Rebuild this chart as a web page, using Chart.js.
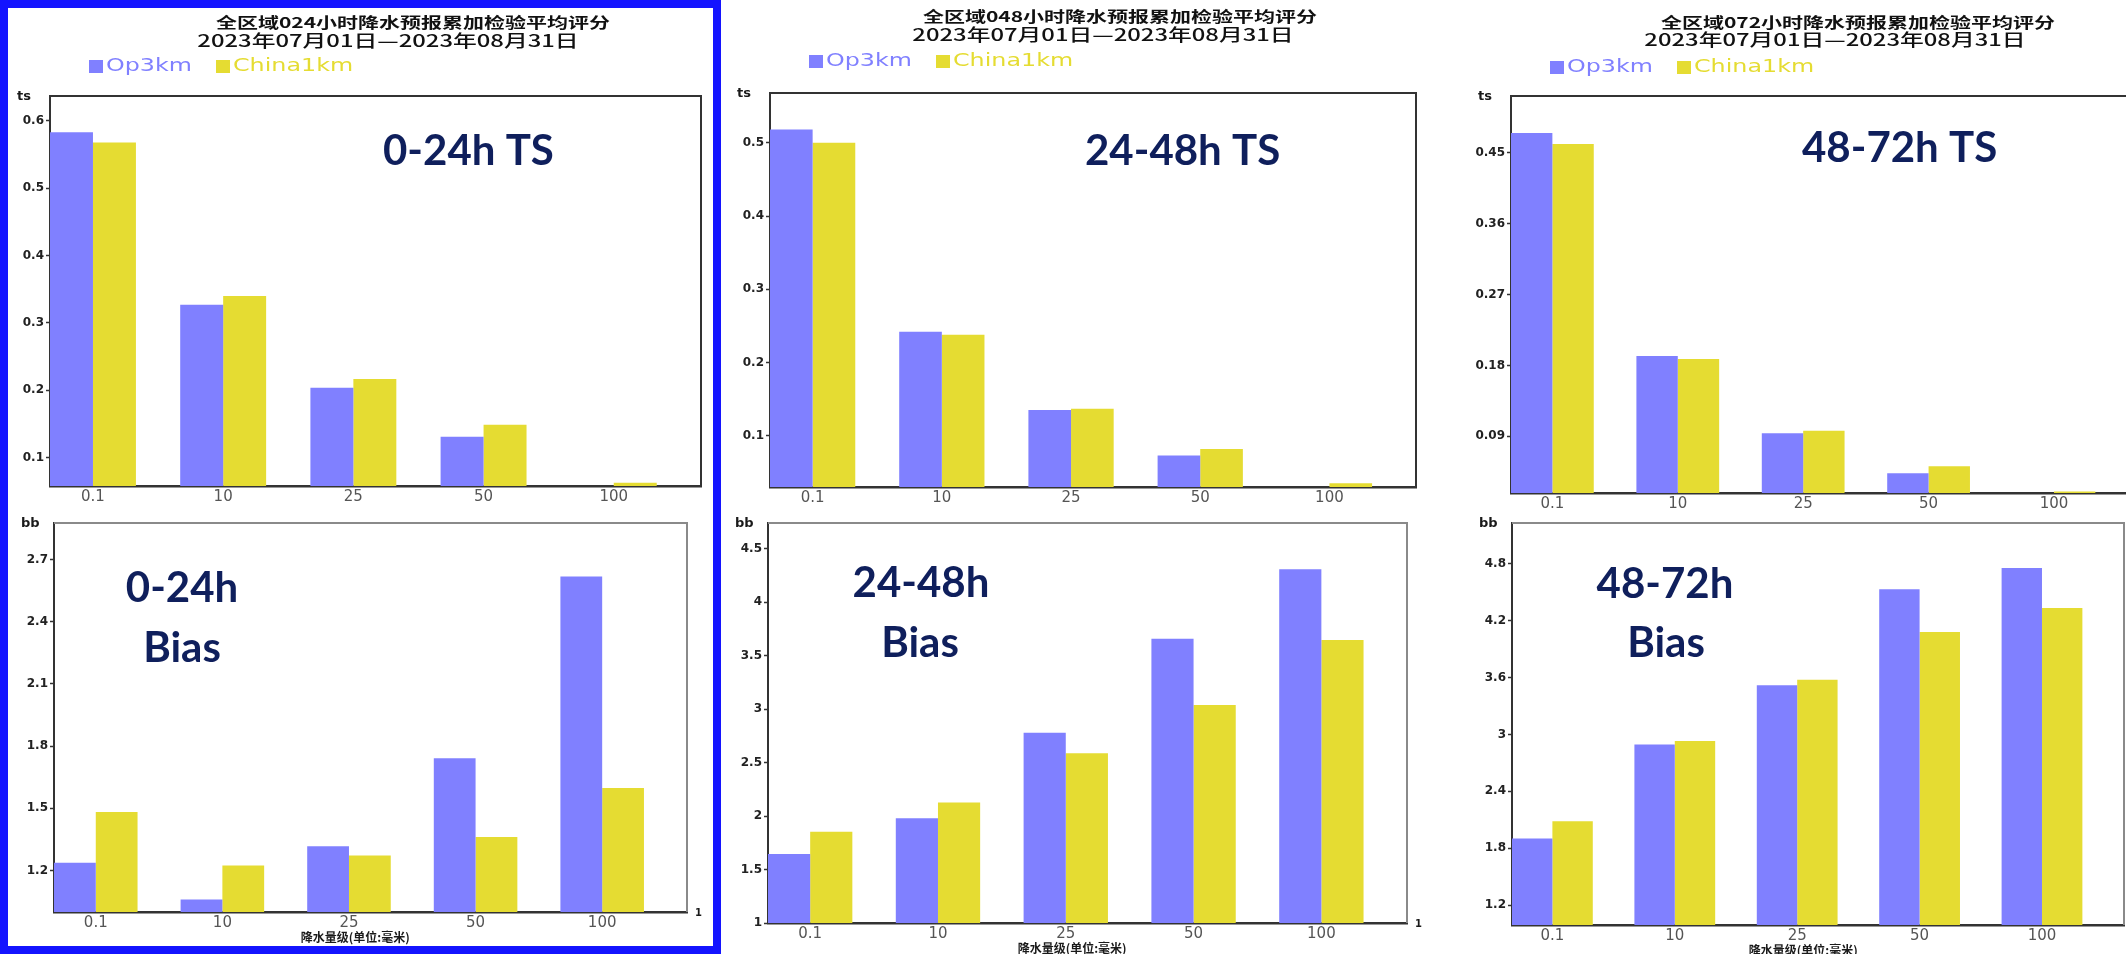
<!DOCTYPE html>
<html>
<head>
<meta charset="utf-8">
<title>全区域降水预报累加检验平均评分</title>
<script src="https://cdn.jsdelivr.net/npm/chart.js@4.4.0/dist/chart.umd.min.js"></script>
<style>
  html, body { margin: 0; padding: 0; background: #fff; overflow: hidden; }
  #page { position: relative; width: 2126px; height: 954px; overflow: hidden; background: #fff; }
  canvas { position: absolute; }
  #frame024 { position: absolute; left: 0; top: 0; width: 721px; height: 954px;
              box-sizing: border-box; border: 8px solid #1414ff; pointer-events: none; }
</style>
</head>
<body>
<div id="page">
  <canvas id="ts024"></canvas>
  <canvas id="bb024"></canvas>
  <canvas id="ts048"></canvas>
  <canvas id="bb048"></canvas>
  <canvas id="ts072"></canvas>
  <canvas id="bb072"></canvas>
  <div id="frame024"></div>
</div>
<script>
// precipitation thresholds (mm)
const categories = ['0.1', '10', '25', '50', '100'];
const seriesNames = ['Op3km', 'China1km'];

const titles = [
  '全区域024小时降水预报累加检验平均评分',
  '全区域048小时降水预报累加检验平均评分',
  '全区域072小时降水预报累加检验平均评分'
];
const period = '2023年07月01日—2023年08月31日';
const xAxisTitle = '降水量级(单位:毫米)';

// TS scores
const ts024Op    = [0.583, 0.327, 0.204, 0.131, 0.045];
const ts024China = [0.568, 0.340, 0.217, 0.149, 0.063];
const ts048Op    = [0.518, 0.242, 0.135, 0.073, 0.020];
const ts048China = [0.500, 0.238, 0.137, 0.082, 0.035];
const ts072Op    = [0.475, 0.192, 0.094, 0.043, 0.010];
const ts072China = [0.461, 0.188, 0.097, 0.052, 0.020];

// bias scores
const bb024Op    = [1.237, 1.060, 1.317, 1.742, 2.618];
const bb024China = [1.482, 1.224, 1.272, 1.362, 1.598];
const bb048Op    = [1.644, 1.980, 2.780, 3.657, 4.307];
const bb048China = [1.853, 2.126, 2.587, 3.038, 3.645];
const bb072Op    = [1.902, 2.893, 3.518, 4.530, 4.755];
const bb072China = [2.085, 2.932, 3.578, 4.080, 4.333];

// y tick labels
const ts024Ticks = [0.1, 0.2, 0.3, 0.4, 0.5, 0.6];
const ts048Ticks = [0.1, 0.2, 0.3, 0.4, 0.5];
const ts072Ticks = [0.09, 0.18, 0.27, 0.36, 0.45];
const bb024Ticks = [1.2, 1.5, 1.8, 2.1, 2.4, 2.7];
const bb048Ticks = [1, 1.5, 2, 2.5, 3, 3.5, 4, 4.5];
const bb072Ticks = [1.2, 1.8, 2.4, 3, 3.6, 4.2, 4.8];

const OP_COLOR = '#8080ff';
const CN_COLOR = '#e5dc32';
const NAVY = '#0f1f5c';
const STRETCH = 1.4;   // header text is drawn wide
const Y_AXIS_W = 40;
const X_AXIS_H = 24;
const X_MIN = -0.33, X_MAX = 4.67;

function wideText(ctx, text, x, y, font, color, align) {
  ctx.save();
  ctx.font = font;
  ctx.fillStyle = color;
  ctx.textAlign = align;
  ctx.textBaseline = 'middle';
  ctx.translate(x, y);
  ctx.scale(STRETCH, 1);
  ctx.fillText(text, 0, 0);
  ctx.restore();
}

const decor = {
  id: 'decor',
  afterDraw(chart, args, o) {
    const ctx = chart.ctx;
    const { left, top, right, bottom } = chart.chartArea;
    const ox = o.ox, oy = o.oy;

    // top and right sides of the plot frame
    ctx.save();
    ctx.strokeStyle = o.frameColor;
    ctx.lineWidth = 2;
    ctx.beginPath();
    ctx.moveTo(left, top);
    ctx.lineTo(right, top);
    ctx.lineTo(right, bottom);
    ctx.stroke();

    // axis name in the corner
    ctx.fillStyle = '#1a1a1a';
    ctx.font = 'bold 13px "DejaVu Sans"';
    ctx.textAlign = 'left';
    ctx.textBaseline = 'middle';
    ctx.fillText(o.axisName, left - 33, top + 1);

    if (o.endMark) {
      ctx.font = 'bold 10px "DejaVu Sans"';
      ctx.fillText('1', right + 8, bottom + 1);
    }
    if (o.xTitle) {
      ctx.font = 'bold 12px "Noto Sans CJK SC"';
      ctx.textAlign = 'center';
      ctx.fillText(o.xTitle, chart.scales.x.getPixelForValue(2.05), bottom + 25);
    }

    // big captions
    ctx.fillStyle = NAVY;
    ctx.font = 'bold 42px Lato';
    ctx.textBaseline = 'alphabetic';
    for (const t of o.tags) {
      ctx.textAlign = t.align;
      ctx.fillText(t.text, t.x - ox, t.y - oy);
    }
    ctx.restore();

    if (o.header) {
      const h = o.header;
      wideText(ctx, h.title, h.tx - ox, h.ty - oy, 'bold 15px "Noto Sans CJK SC"', '#111', 'center');
      wideText(ctx, period, h.sx - ox, h.sy - oy, '500 17px "Noto Sans CJK SC"', '#111', 'center');
      // legend
      const offs = [39, 166];
      chart.data.datasets.forEach((ds, i) => {
        const bx = left + offs[i];
        const by = h.ly - oy;
        ctx.fillStyle = ds.backgroundColor;
        ctx.fillRect(bx, by - 7, 14, 13);
        wideText(ctx, ds.label, bx + 17, by, '17px "DejaVu Sans"', ds.backgroundColor, 'left');
      });
    }
  }
};

function buildChart(cfg) {
  const cv = document.getElementById(cfg.id);
  const [bx, by, bw, bh] = cfg.box;
  const [L, T, R, B] = cfg.frame;
  cv.width = bw;
  cv.height = bh;
  cv.style.left = bx + 'px';
  cv.style.top = by + 'px';

  const toPoints = arr => arr.map((v, i) => ({ x: i, y: v }));
  const frameColor = cfg.axisName === 'ts' ? '#333' : '#8a8a8a';

  return new Chart(cv, {
    type: 'bar',
    data: {
      datasets: [
        { label: seriesNames[0], data: toPoints(cfg.op), backgroundColor: OP_COLOR, clip: 0 },
        { label: seriesNames[1], data: toPoints(cfg.china), backgroundColor: CN_COLOR, clip: 0 }
      ]
    },
    options: {
      responsive: false,
      animation: false,
      datasets: { bar: { categoryPercentage: 0.66, barPercentage: 1.0 } },
      layout: {
        padding: {
          left: L - bx - Y_AXIS_W,
          top: T - by,
          right: bx + bw - R,
          bottom: by + bh - B - X_AXIS_H
        }
      },
      scales: {
        x: {
          type: 'linear',
          min: X_MIN,
          max: X_MAX,
          offset: false,
          afterFit: s => { s.height = X_AXIS_H; },
          afterBuildTicks: s => { s.ticks = categories.map((c, i) => ({ value: i })); },
          grid: { display: false, drawTicks: false },
          border: { display: true, color: '#333', width: 2.5 },
          ticks: {
            autoSkip: false,
            maxRotation: 0,
            padding: 2,
            color: '#555',
            font: { family: 'DejaVu Sans', size: 15 },
            callback: v => categories[v]
          }
        },
        y: {
          min: cfg.yMin,
          max: cfg.yMax,
          afterFit: s => { s.width = Y_AXIS_W; },
          afterBuildTicks: s => { s.ticks = cfg.yTicks.map(v => ({ value: v })); },
          grid: { display: true, drawOnChartArea: false, drawTicks: true, tickLength: 4, tickColor: '#333', tickWidth: 1.5 },
          border: { display: true, color: '#333', width: 2 },
          ticks: {
            autoSkip: false,
            padding: 2,
            color: '#222',
            font: { family: 'DejaVu Sans', size: 12, weight: 'bold' },
            callback: v => String(v)
          }
        }
      },
      plugins: {
        legend: { display: false },
        tooltip: { enabled: false },
        decor: {
          ox: bx, oy: by,
          frameColor,
          axisName: cfg.axisName,
          header: cfg.header || null,
          tags: cfg.tags,
          xTitle: cfg.axisName === 'bb' ? xAxisTitle : null,
          endMark: cfg.axisName === 'bb'
        }
      }
    },
    plugins: [decor]
  });
}

// 0-24h
buildChart({
  id: 'ts024', box: [0, 0, 720, 510], frame: [50, 96, 701, 486],
  yMin: 0.058, yMax: 0.637, yTicks: ts024Ticks, op: ts024Op, china: ts024China, axisName: 'ts',
  header: { title: titles[0], tx: 413, ty: 22, sx: 388, sy: 41, ly: 67 },
  tags: [{ text: '0-24h TS', x: 383, y: 165, align: 'left' }]
});
buildChart({
  id: 'bb024', box: [0, 505, 720, 449], frame: [54, 523, 687, 912],
  yMin: 1.0, yMax: 2.876, yTicks: bb024Ticks, op: bb024Op, china: bb024China, axisName: 'bb',
  tags: [{ text: '0-24h', x: 182, y: 602, align: 'center' }, { text: 'Bias', x: 182, y: 662, align: 'center' }]
});

// 24-48h
buildChart({
  id: 'ts048', box: [720, 0, 720, 510], frame: [770, 93, 1416, 487],
  yMin: 0.030, yMax: 0.568, yTicks: ts048Ticks, op: ts048Op, china: ts048China, axisName: 'ts',
  header: { title: titles[1], tx: 1120, ty: 16, sx: 1103, sy: 35, ly: 62 },
  tags: [{ text: '24-48h TS', x: 1085, y: 165, align: 'left' }]
});
buildChart({
  id: 'bb048', box: [720, 505, 720, 449], frame: [768, 523, 1407, 923],
  yMin: 1.0, yMax: 4.74, yTicks: bb048Ticks, op: bb048Op, china: bb048China, axisName: 'bb',
  tags: [{ text: '24-48h', x: 921, y: 597, align: 'center' }, { text: 'Bias', x: 920, y: 657, align: 'center' }]
});

// 48-72h
buildChart({
  id: 'ts072', box: [1440, 0, 720, 510], frame: [1511, 96, 2138, 493],
  yMin: 0.018, yMax: 0.522, yTicks: ts072Ticks, op: ts072Op, china: ts072China, axisName: 'ts',
  header: { title: titles[2], tx: 1858, ty: 22, sx: 1835, sy: 40, ly: 68 },
  tags: [{ text: '48-72h TS', x: 1802, y: 162, align: 'left' }]
});
buildChart({
  id: 'bb072', box: [1440, 505, 720, 449], frame: [1512, 523, 2124, 925],
  yMin: 0.99, yMax: 5.23, yTicks: bb072Ticks, op: bb072Op, china: bb072China, axisName: 'bb',
  tags: [{ text: '48-72h', x: 1665, y: 598, align: 'center' }, { text: 'Bias', x: 1666, y: 657, align: 'center' }]
});
</script>
</body>
</html>
